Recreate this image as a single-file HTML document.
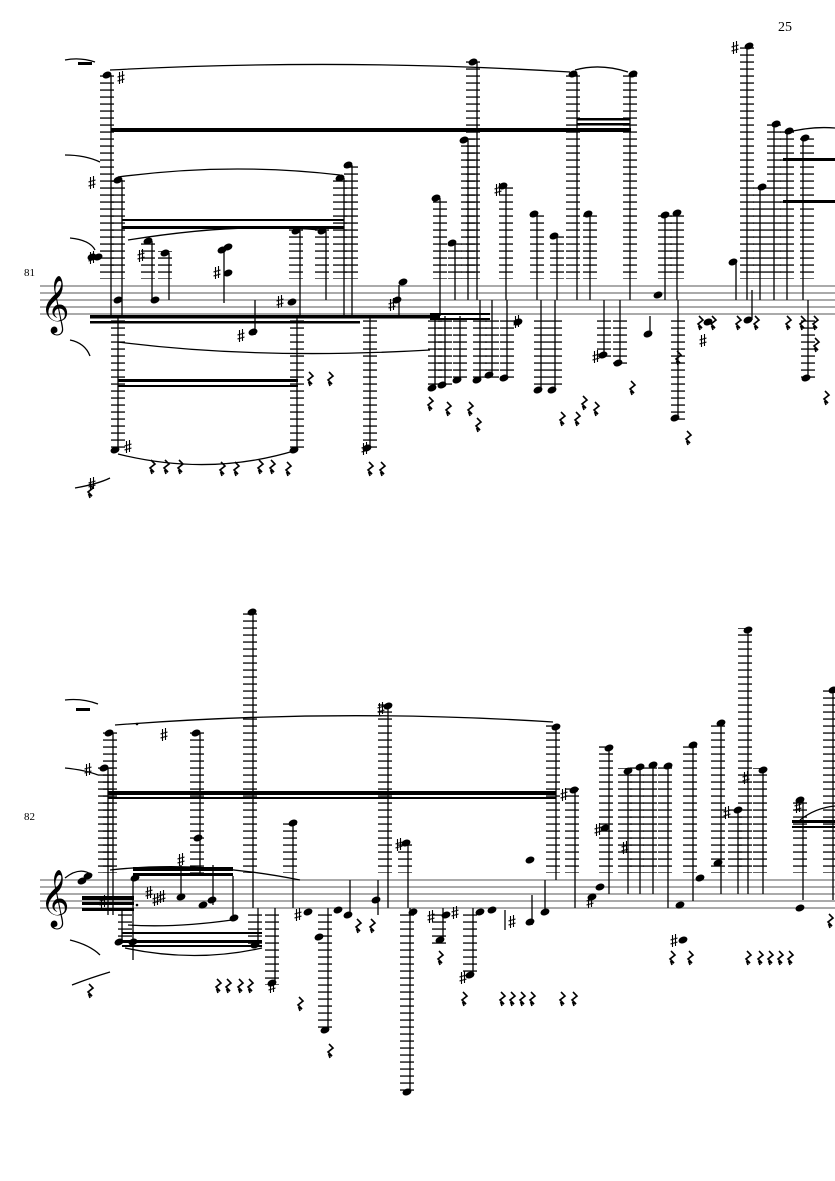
<!DOCTYPE html>
<html><head><meta charset="utf-8"><style>
html,body{margin:0;padding:0;background:#fff;}
svg{display:block}
text{font-family:"Liberation Serif",serif;fill:#000}
</style></head><body>
<svg width="835" height="1181" viewBox="0 0 835 1181" xmlns="http://www.w3.org/2000/svg">
<defs>
<pattern id="L1" x="0" y="0" width="14" height="7" patternUnits="userSpaceOnUse"><rect x="0" y="5.4" width="14" height="1.3" fill="#000"/></pattern>
<pattern id="L2" x="0" y="0" width="14" height="7" patternUnits="userSpaceOnUse"><rect x="0" y="4.4" width="14" height="1.3" fill="#000"/></pattern>
<g id="h"><ellipse cx="0" cy="0" rx="4.6" ry="3.3" transform="rotate(-22)" fill="#000"/></g>
<g id="r"><path d="M-1,-6 L3,-2 L-2,2 L2,6 L-1,5 L0,8" stroke="#000" stroke-width="1.6" fill="none"/></g>
<g id="s"><path d="M-1.5,-6 V6 M1.5,-7 V5 M-3.5,-1 L3.5,-3 M-3.5,3 L3.5,1" stroke="#000" stroke-width="1.1" fill="none"/></g>
</defs>

<text x="778" y="31" font-size="14">25</text>

<!-- SYSTEM 1 -->
<text x="24" y="276" font-size="11">81</text>
<g stroke="#777" stroke-width="1.2">
<line x1="40" y1="286" x2="835" y2="286"/><line x1="40" y1="293" x2="835" y2="293"/><line x1="40" y1="300" x2="835" y2="300"/><line x1="40" y1="307" x2="835" y2="307"/><line x1="40" y1="314" x2="835" y2="314"/>
</g>
<text x="40" y="321" font-size="50">𝄞</text>

<g fill="url(#L1)">
<rect x="100" y="72" width="14" height="207"/>
<rect x="111" y="178" width="14" height="101"/>
<rect x="141" y="238" width="14" height="41"/>
<rect x="158" y="251" width="14" height="28"/>
<rect x="289" y="229" width="14" height="50"/>
<rect x="315" y="229" width="14" height="50"/>
<rect x="333" y="176" width="14" height="103"/>
<rect x="344" y="162" width="14" height="117"/>
<rect x="433" y="196" width="14" height="83"/>
<rect x="448" y="241" width="14" height="38"/>
<rect x="461" y="138" width="14" height="141"/>
<rect x="466" y="60" width="14" height="219"/>
<rect x="499" y="184" width="14" height="95"/>
<rect x="530" y="212" width="14" height="67"/>
<rect x="550" y="234" width="14" height="45"/>
<rect x="566" y="72" width="14" height="207"/>
<rect x="583" y="212" width="14" height="67"/>
<rect x="623" y="72" width="14" height="207"/>
<rect x="658" y="212" width="14" height="67"/>
<rect x="670" y="212" width="14" height="67"/>
<rect x="740" y="44" width="14" height="235"/>
<rect x="753" y="184" width="14" height="95"/>
<rect x="767" y="122" width="14" height="157"/>
<rect x="780" y="128" width="14" height="151"/>
<rect x="800" y="135" width="14" height="144"/>
</g>
<g fill="url(#L1)">
<rect x="111" y="320" width="14" height="132"/>
<rect x="290" y="320" width="14" height="132"/>
<rect x="363" y="320" width="14" height="130"/>
<rect x="428" y="320" width="14" height="70"/>
<rect x="438" y="320" width="14" height="66"/>
<rect x="453" y="320" width="14" height="62"/>
<rect x="473" y="320" width="14" height="62"/>
<rect x="485" y="320" width="14" height="58"/>
<rect x="500" y="320" width="14" height="58"/>
<rect x="534" y="320" width="14" height="70"/>
<rect x="548" y="320" width="14" height="70"/>
<rect x="597" y="320" width="14" height="38"/>
<rect x="613" y="320" width="14" height="45"/>
<rect x="671" y="320" width="14" height="100"/>
<rect x="801" y="320" width="14" height="60"/>
</g>
<g stroke="#000" stroke-width="1.3">
<line x1="111" y1="75" x2="111" y2="316"/><line x1="122" y1="180" x2="122" y2="316"/>
<line x1="152" y1="241" x2="152" y2="300"/><line x1="169" y1="253" x2="169" y2="300"/>
<line x1="224" y1="247" x2="224" y2="303"/><line x1="255" y1="300" x2="255" y2="335"/>
<line x1="300" y1="231" x2="300" y2="316"/><line x1="326" y1="231" x2="326" y2="300"/>
<line x1="344" y1="178" x2="344" y2="316"/><line x1="352" y1="165" x2="352" y2="316"/>
<line x1="440" y1="198" x2="440" y2="316"/><line x1="455" y1="243" x2="455" y2="300"/>
<line x1="468" y1="140" x2="468" y2="300"/><line x1="477" y1="62" x2="477" y2="300"/>
<line x1="506" y1="186" x2="506" y2="300"/><line x1="537" y1="214" x2="537" y2="300"/>
<line x1="557" y1="236" x2="557" y2="300"/><line x1="577" y1="74" x2="577" y2="300"/>
<line x1="590" y1="214" x2="590" y2="300"/><line x1="630" y1="74" x2="630" y2="300"/>
<line x1="665" y1="214" x2="665" y2="300"/><line x1="677" y1="214" x2="677" y2="300"/>
<line x1="736" y1="262" x2="736" y2="300"/><line x1="747" y1="46" x2="747" y2="300"/>
<line x1="760" y1="187" x2="760" y2="300"/><line x1="774" y1="124" x2="774" y2="300"/>
<line x1="787" y1="131" x2="787" y2="300"/><line x1="803" y1="138" x2="803" y2="300"/>
<line x1="118" y1="316" x2="118" y2="450"/><line x1="297" y1="316" x2="297" y2="450"/>
<line x1="370" y1="316" x2="370" y2="448"/><line x1="435" y1="316" x2="435" y2="388"/>
<line x1="445" y1="316" x2="445" y2="385"/><line x1="460" y1="316" x2="460" y2="380"/>
<line x1="480" y1="300" x2="480" y2="380"/><line x1="492" y1="300" x2="492" y2="375"/>
<line x1="507" y1="300" x2="507" y2="378"/><line x1="541" y1="300" x2="541" y2="390"/>
<line x1="555" y1="300" x2="555" y2="390"/><line x1="604" y1="300" x2="604" y2="355"/>
<line x1="620" y1="300" x2="620" y2="363"/><line x1="678" y1="300" x2="678" y2="418"/>
<line x1="808" y1="300" x2="808" y2="378"/><line x1="399" y1="285" x2="399" y2="316"/>
<line x1="650" y1="316" x2="650" y2="335"/><line x1="752" y1="290" x2="752" y2="320"/>
</g>
<g fill="#000">
<rect x="111" y="128" width="520" height="4"/>
<rect x="577" y="118" width="53" height="2.5"/><rect x="577" y="123" width="53" height="2.5"/>
<rect x="122" y="226" width="222" height="3"/><rect x="122" y="219" width="222" height="2"/>
<rect x="90" y="315" width="350" height="3.5"/><rect x="90" y="321" width="270" height="2.5"/>
<rect x="118" y="379" width="180" height="3"/><rect x="118" y="385" width="180" height="2"/>
<rect x="430" y="313" width="60" height="2"/><rect x="430" y="318" width="60" height="2"/>
<rect x="783" y="158" width="52" height="3"/><rect x="783" y="200" width="52" height="3"/>
</g>
<g>
<use href="#h" x="107" y="75"/><use href="#h" x="118" y="180"/><use href="#h" x="148" y="241"/><use href="#h" x="165" y="253"/>
<use href="#h" x="228" y="247"/><use href="#h" x="222" y="250"/><use href="#h" x="296" y="231"/><use href="#h" x="322" y="231"/>
<use href="#h" x="340" y="178"/><use href="#h" x="348" y="165"/><use href="#h" x="436" y="198"/><use href="#h" x="452" y="243"/>
<use href="#h" x="464" y="140"/><use href="#h" x="473" y="62"/><use href="#h" x="503" y="186"/><use href="#h" x="534" y="214"/>
<use href="#h" x="554" y="236"/><use href="#h" x="573" y="74"/><use href="#h" x="588" y="214"/><use href="#h" x="633" y="74"/>
<use href="#h" x="665" y="215"/><use href="#h" x="677" y="213"/><use href="#h" x="733" y="262"/><use href="#h" x="749" y="46"/>
<use href="#h" x="762" y="187"/><use href="#h" x="776" y="124"/><use href="#h" x="789" y="131"/><use href="#h" x="805" y="138"/>
<use href="#h" x="92" y="257"/><use href="#h" x="98" y="257"/><use href="#h" x="228" y="273"/><use href="#h" x="403" y="282"/>
<use href="#h" x="292" y="302"/><use href="#h" x="253" y="332"/><use href="#h" x="115" y="450"/><use href="#h" x="294" y="450"/>
<use href="#h" x="367" y="448"/><use href="#h" x="432" y="388"/><use href="#h" x="442" y="385"/><use href="#h" x="457" y="380"/>
<use href="#h" x="477" y="380"/><use href="#h" x="489" y="375"/><use href="#h" x="504" y="378"/><use href="#h" x="538" y="390"/>
<use href="#h" x="552" y="390"/><use href="#h" x="603" y="355"/><use href="#h" x="618" y="363"/><use href="#h" x="675" y="418"/>
<use href="#h" x="806" y="378"/><use href="#h" x="518" y="322"/><use href="#h" x="648" y="334"/><use href="#h" x="658" y="295"/>
<use href="#h" x="748" y="320"/><use href="#h" x="708" y="322"/><use href="#h" x="397" y="300"/>
<use href="#h" x="118" y="300"/><use href="#h" x="155" y="300"/>
</g>
<g>
<use href="#s" x="121" y="78"/><use href="#s" x="92" y="183"/><use href="#s" x="92" y="258"/><use href="#s" x="141" y="256"/>
<use href="#s" x="217" y="273"/><use href="#s" x="241" y="336"/><use href="#s" x="280" y="302"/><use href="#s" x="392" y="305"/>
<use href="#s" x="498" y="190"/><use href="#s" x="517" y="322"/><use href="#s" x="596" y="357"/><use href="#s" x="365" y="449"/>
<use href="#s" x="735" y="48"/><use href="#s" x="703" y="341"/><use href="#s" x="92" y="484"/><use href="#s" x="128" y="447"/>
</g>
<g>
<use href="#r" x="310" y="378"/><use href="#r" x="330" y="378"/><use href="#r" x="430" y="403"/><use href="#r" x="448" y="408"/>
<use href="#r" x="470" y="408"/><use href="#r" x="478" y="424"/><use href="#r" x="562" y="418"/><use href="#r" x="577" y="418"/>
<use href="#r" x="584" y="402"/><use href="#r" x="596" y="408"/><use href="#r" x="632" y="387"/><use href="#r" x="688" y="437"/>
<use href="#r" x="678" y="357"/><use href="#r" x="700" y="322"/><use href="#r" x="713" y="322"/><use href="#r" x="738" y="322"/>
<use href="#r" x="756" y="322"/><use href="#r" x="788" y="322"/><use href="#r" x="802" y="322"/><use href="#r" x="815" y="322"/>
<use href="#r" x="816" y="344"/><use href="#r" x="826" y="397"/><use href="#r" x="152" y="466"/><use href="#r" x="166" y="466"/>
<use href="#r" x="180" y="466"/><use href="#r" x="260" y="466"/><use href="#r" x="272" y="466"/><use href="#r" x="288" y="468"/>
<use href="#r" x="370" y="468"/><use href="#r" x="382" y="468"/><use href="#r" x="222" y="468"/><use href="#r" x="236" y="468"/>
<use href="#r" x="90" y="490"/>
</g>
<g fill="none" stroke="#000" stroke-width="1.3">
<path d="M110,70 Q340,58 570,72"/><path d="M575,70 Q600,63 628,72"/>
<path d="M65,60 Q80,57 95,62"/><path d="M65,155 Q85,155 100,162"/>
<path d="M118,177 Q230,162 340,175"/><path d="M70,238 Q90,240 95,250"/>
<path d="M128,240 Q240,222 320,230"/><path d="M70,340 Q85,343 90,356"/>
<path d="M118,454 Q210,477 297,450"/><path d="M118,342 Q260,360 430,350"/>
<path d="M75,488 Q98,484 110,478"/><path d="M785,133 Q810,126 835,128"/>
</g>
<g fill="#000"><rect x="78" y="62" width="14" height="3"/></g>

<!-- SYSTEM 2 -->
<text x="24" y="820" font-size="11">82</text>
<g stroke="#777" stroke-width="1.2">
<line x1="40" y1="880" x2="835" y2="880"/><line x1="40" y1="887" x2="835" y2="887"/><line x1="40" y1="894" x2="835" y2="894"/><line x1="40" y1="901" x2="835" y2="901"/><line x1="40" y1="908" x2="835" y2="908"/>
</g>
<text x="40" y="915" font-size="50">𝄞</text>

<g fill="url(#L2)">
<rect x="98" y="766" width="14" height="107"/>
<rect x="103" y="730" width="14" height="143"/>
<rect x="190" y="731" width="14" height="142"/>
<rect x="243" y="609" width="14" height="264"/>
<rect x="283" y="820" width="14" height="53"/>
<rect x="378" y="703" width="14" height="170"/>
<rect x="398" y="840" width="14" height="33"/>
<rect x="546" y="725" width="14" height="148"/>
<rect x="565" y="788" width="14" height="85"/>
<rect x="599" y="745" width="14" height="128"/>
<rect x="618" y="768" width="14" height="105"/>
<rect x="630" y="764" width="14" height="109"/>
<rect x="643" y="762" width="14" height="111"/>
<rect x="658" y="764" width="14" height="109"/>
<rect x="683" y="743" width="14" height="130"/>
<rect x="711" y="720" width="14" height="153"/>
<rect x="738" y="628" width="14" height="245"/>
<rect x="728" y="808" width="14" height="65"/>
<rect x="753" y="768" width="14" height="105"/>
<rect x="793" y="798" width="14" height="75"/>
<rect x="823" y="688" width="14" height="185"/>
</g>
<g fill="url(#L2)">
<rect x="118" y="913" width="14" height="30"/>
<rect x="248" y="913" width="14" height="34"/>
<rect x="265" y="913" width="14" height="72"/>
<rect x="318" y="913" width="14" height="120"/>
<rect x="400" y="913" width="14" height="180"/>
<rect x="432" y="913" width="14" height="32"/>
<rect x="463" y="913" width="14" height="64"/>
</g>
<g stroke="#000" stroke-width="1.3">
<line x1="108" y1="768" x2="108" y2="915"/><line x1="113" y1="733" x2="113" y2="915"/>
<line x1="200" y1="733" x2="200" y2="873"/><line x1="253" y1="612" x2="253" y2="908"/>
<line x1="293" y1="823" x2="293" y2="908"/><line x1="388" y1="706" x2="388" y2="908"/>
<line x1="408" y1="843" x2="408" y2="908"/><line x1="556" y1="727" x2="556" y2="880"/>
<line x1="575" y1="790" x2="575" y2="908"/><line x1="609" y1="748" x2="609" y2="894"/>
<line x1="628" y1="771" x2="628" y2="894"/><line x1="640" y1="767" x2="640" y2="894"/>
<line x1="653" y1="765" x2="653" y2="894"/><line x1="668" y1="766" x2="668" y2="908"/>
<line x1="693" y1="745" x2="693" y2="901"/><line x1="721" y1="723" x2="721" y2="894"/>
<line x1="748" y1="630" x2="748" y2="894"/><line x1="738" y1="810" x2="738" y2="894"/>
<line x1="763" y1="770" x2="763" y2="894"/><line x1="803" y1="800" x2="803" y2="900"/>
<line x1="833" y1="690" x2="833" y2="900"/>
<line x1="122" y1="908" x2="122" y2="942"/><line x1="258" y1="908" x2="258" y2="945"/>
<line x1="275" y1="908" x2="275" y2="983"/><line x1="328" y1="908" x2="328" y2="1030"/>
<line x1="410" y1="908" x2="410" y2="1092"/><line x1="443" y1="908" x2="443" y2="940"/>
<line x1="473" y1="908" x2="473" y2="975"/><line x1="133" y1="880" x2="133" y2="960"/>
<line x1="181" y1="865" x2="181" y2="898"/><line x1="213" y1="865" x2="213" y2="905"/>
<line x1="233" y1="876" x2="233" y2="915"/><line x1="350" y1="880" x2="350" y2="915"/>
<line x1="378" y1="880" x2="378" y2="915"/><line x1="532" y1="895" x2="532" y2="925"/>
<line x1="545" y1="880" x2="545" y2="915"/><line x1="505" y1="910" x2="505" y2="930"/>
</g>
<g fill="#000">
<rect x="108" y="791" width="448" height="4"/><rect x="108" y="797" width="448" height="2"/>
<rect x="133" y="867" width="100" height="4"/><rect x="133" y="873" width="100" height="3"/>
<rect x="82" y="896" width="52" height="4"/><rect x="82" y="902" width="52" height="3"/><rect x="82" y="908" width="52" height="3"/>
<rect x="122" y="940" width="140" height="3"/><rect x="122" y="932" width="140" height="2"/><rect x="122" y="945" width="140" height="2"/>
<rect x="792" y="820" width="43" height="3"/><rect x="792" y="826" width="43" height="2"/>
<rect x="76" y="708" width="14" height="3"/>
</g>
<g>
<use href="#h" x="104" y="768"/><use href="#h" x="109" y="733"/><use href="#h" x="196" y="733"/><use href="#h" x="252" y="612"/>
<use href="#h" x="293" y="823"/><use href="#h" x="388" y="706"/><use href="#h" x="406" y="843"/><use href="#h" x="556" y="727"/>
<use href="#h" x="574" y="790"/><use href="#h" x="609" y="748"/><use href="#h" x="605" y="828"/><use href="#h" x="628" y="771"/>
<use href="#h" x="640" y="767"/><use href="#h" x="653" y="765"/><use href="#h" x="668" y="766"/><use href="#h" x="693" y="745"/>
<use href="#h" x="721" y="723"/><use href="#h" x="748" y="630"/><use href="#h" x="738" y="810"/><use href="#h" x="763" y="770"/>
<use href="#h" x="800" y="800"/><use href="#h" x="833" y="690"/><use href="#h" x="82" y="881"/><use href="#h" x="88" y="876"/>
<use href="#h" x="135" y="878"/><use href="#h" x="181" y="897"/><use href="#h" x="198" y="838"/><use href="#h" x="203" y="905"/>
<use href="#h" x="212" y="900"/><use href="#h" x="348" y="915"/><use href="#h" x="376" y="900"/><use href="#h" x="338" y="910"/>
<use href="#h" x="308" y="912"/><use href="#h" x="319" y="937"/><use href="#h" x="119" y="942"/><use href="#h" x="255" y="945"/>
<use href="#h" x="272" y="983"/><use href="#h" x="325" y="1030"/><use href="#h" x="407" y="1092"/><use href="#h" x="440" y="940"/>
<use href="#h" x="470" y="975"/><use href="#h" x="413" y="912"/><use href="#h" x="446" y="915"/><use href="#h" x="480" y="912"/>
<use href="#h" x="492" y="910"/><use href="#h" x="530" y="922"/><use href="#h" x="545" y="912"/><use href="#h" x="530" y="860"/>
<use href="#h" x="592" y="897"/><use href="#h" x="600" y="887"/><use href="#h" x="680" y="905"/><use href="#h" x="683" y="940"/>
<use href="#h" x="700" y="878"/><use href="#h" x="718" y="863"/><use href="#h" x="800" y="908"/><use href="#h" x="133" y="942"/>
<use href="#h" x="234" y="918"/>
</g>
<g>
<use href="#s" x="88" y="770"/><use href="#s" x="164" y="735"/><use href="#s" x="381" y="709"/><use href="#s" x="399" y="845"/>
<use href="#s" x="181" y="860"/><use href="#s" x="149" y="893"/><use href="#s" x="156" y="900"/><use href="#s" x="162" y="897"/>
<use href="#s" x="103" y="902"/><use href="#s" x="564" y="795"/><use href="#s" x="625" y="848"/><use href="#s" x="598" y="830"/>
<use href="#s" x="727" y="813"/><use href="#s" x="746" y="778"/><use href="#s" x="798" y="807"/><use href="#s" x="298" y="915"/>
<use href="#s" x="431" y="917"/><use href="#s" x="455" y="913"/><use href="#s" x="463" y="978"/><use href="#s" x="512" y="922"/>
<use href="#s" x="590" y="902"/><use href="#s" x="272" y="987"/><use href="#s" x="674" y="941"/>
</g>
<g fill="#000"><circle cx="137" cy="724" r="1.3"/><circle cx="137" cy="905" r="1.3"/></g>
<g>
<use href="#r" x="218" y="985"/><use href="#r" x="228" y="985"/><use href="#r" x="240" y="985"/><use href="#r" x="250" y="985"/>
<use href="#r" x="300" y="1003"/><use href="#r" x="330" y="1050"/><use href="#r" x="358" y="925"/><use href="#r" x="372" y="925"/>
<use href="#r" x="440" y="957"/><use href="#r" x="464" y="998"/><use href="#r" x="502" y="998"/><use href="#r" x="512" y="998"/>
<use href="#r" x="522" y="998"/><use href="#r" x="532" y="998"/><use href="#r" x="562" y="998"/><use href="#r" x="574" y="998"/>
<use href="#r" x="672" y="957"/><use href="#r" x="690" y="957"/><use href="#r" x="748" y="957"/><use href="#r" x="760" y="957"/>
<use href="#r" x="770" y="957"/><use href="#r" x="780" y="957"/><use href="#r" x="790" y="957"/><use href="#r" x="830" y="920"/>
<use href="#r" x="90" y="990"/>
</g>
<g fill="none" stroke="#000" stroke-width="1.3">
<path d="M115,725 Q335,708 553,722"/><path d="M65,700 Q82,698 98,704"/><path d="M65,768 Q85,770 98,775"/>
<path d="M65,878 Q80,866 92,875"/><path d="M110,870 Q200,860 300,880"/><path d="M70,940 Q90,945 100,955"/>
<path d="M128,925 Q175,928 232,920"/><path d="M125,948 Q195,963 262,948"/><path d="M72,985 Q90,978 110,972"/>
<path d="M800,820 Q815,808 835,806"/>
</g>
</svg>
</body></html>
